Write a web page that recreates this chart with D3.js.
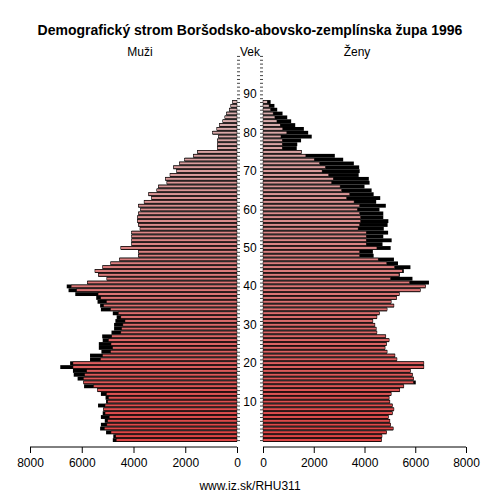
<!DOCTYPE html><html><head><meta charset="utf-8"><script src="https://cdn.jsdelivr.net/npm/d3@7"></script>
<style>body{margin:0;background:#fff}text{font-family:"Liberation Sans",Arial,sans-serif}</style></head><body><svg width="500" height="500"></svg><script>
const male=[4800,4780,5060,5290,5260,5110,5260,5190,5160,5370,5060,5080,5260,5390,5910,5930,6160,6310,6340,6830,6450,5680,5680,5240,5340,5340,5190,5210,4850,4750,4750,4700,4650,4800,5260,5290,5390,5440,6250,6510,6580,5780,5030,5360,5490,5190,4880,4540,3810,3810,4490,4070,4070,4070,4070,3750,3810,3850,3850,3810,3720,3810,3590,3300,3420,3100,3040,2710,2770,2590,2330,2460,2230,2020,1690,1530,760,760,760,710,940,780,680,550,470,400,300,240,170];
const female=[4670,4690,4870,5130,5030,5000,4940,5100,5160,5100,5000,4970,5050,5390,5550,6020,5940,5890,5810,6340,6340,5280,5200,4890,4810,4870,4970,4840,4490,4460,4410,4330,4490,4590,4890,5160,5050,5270,5370,6200,6410,6540,5890,5390,5550,5810,5320,5160,4360,4330,5030,4710,5070,4740,4930,4760,4910,4940,4740,4740,4590,4840,4460,4620,4360,4280,4000,4200,4170,3770,3810,3790,3580,3160,2830,1520,1330,1350,1500,1920,1780,1610,1270,1110,955,770,560,450,300];
const ageTicks=[10,20,30,40,50,60,70,80,90];
const xTicks=[0,2000,4000,6000,8000];
const ages=d3.range(male.length);
const svg=d3.select("svg");
const y=d3.scaleLinear().domain([-0.5,100.5]).range([442,54]);
const xl=d3.scaleLinear().domain([0,8000]).range([237,30]);
const xr=d3.scaleLinear().domain([0,8000]).range([263,466]);
const col=d3.scaleLinear().domain([0,90]).range(["#dd4444","#d8b4b4"]);
const h=y(0)-y(1);
const gL=svg.append("g"),gR=svg.append("g");
ages.forEach(a=>{
 const m=male[a],f=female[a],mn=Math.min(m,f),yy=y(a+0.5);
 gL.append("rect").attr("x",xl(m)).attr("y",yy).attr("width",xl(0)-xl(m)).attr("height",h).attr("fill","#000");
 gL.append("rect").attr("x",xl(mn)).attr("y",yy+0.5).attr("width",xl(0)-xl(mn)).attr("height",h-1.2).attr("fill",col(a)).attr("stroke","#000").attr("stroke-width",0.5);
 gR.append("rect").attr("x",xr(0)).attr("y",yy).attr("width",xr(f)-xr(0)).attr("height",h).attr("fill","#000");
 gR.append("rect").attr("x",xr(0)).attr("y",yy+0.5).attr("width",xr(mn)-xr(0)).attr("height",h-1.2).attr("fill",col(a)).attr("stroke","#000").attr("stroke-width",0.5);
});
const minor=d3.range(0,101);
svg.append("g").attr("transform","translate(237,0)").call(d3.axisRight(y).tickValues(minor).tickSize(3).tickFormat("")).call(g=>g.select(".domain").remove());
svg.append("g").attr("transform","translate(263,0)").call(d3.axisLeft(y).tickValues(minor).tickSize(3).tickFormat("")).call(g=>g.select(".domain").remove());
svg.selectAll(".tick line").attr("stroke","#444");
svg.append("g").selectAll("text").data(ageTicks).join("text").attr("x",250).attr("y",d=>y(d)+4).attr("text-anchor","middle").attr("font-size",12).text(d=>d);
const bl=svg.append("g").attr("transform","translate(0,447)").call(d3.axisBottom(xl).tickValues(xTicks).tickSize(6).tickFormat(d3.format("d")));
const br=svg.append("g").attr("transform","translate(0,447)").call(d3.axisBottom(xr).tickValues(xTicks).tickSize(6).tickFormat(d3.format("d")));
[bl,br].forEach(g=>{g.selectAll("text").attr("font-size",12).attr("font-family","Liberation Sans").attr("dy","0.9em");g.select(".domain").attr("d",g===bl?"M30,0H237":"M263,0H466");});
svg.append("text").attr("x",250).attr("y",35).attr("text-anchor","middle").attr("font-weight","bold").attr("font-size",14).text("Demografický strom Boršodsko-abovsko-zemplínska župa 1996");
svg.append("text").attr("x",140).attr("y",56).attr("text-anchor","middle").attr("font-size",12).text("Muži");
svg.append("text").attr("x",250).attr("y",56).attr("text-anchor","middle").attr("font-size",12).text("Vek");
svg.append("text").attr("x",357).attr("y",56).attr("text-anchor","middle").attr("font-size",12).text("Ženy");
svg.append("text").attr("x",250).attr("y",490).attr("text-anchor","middle").attr("font-size",12).text("www.iz.sk/RHU311");
</script></body></html>
